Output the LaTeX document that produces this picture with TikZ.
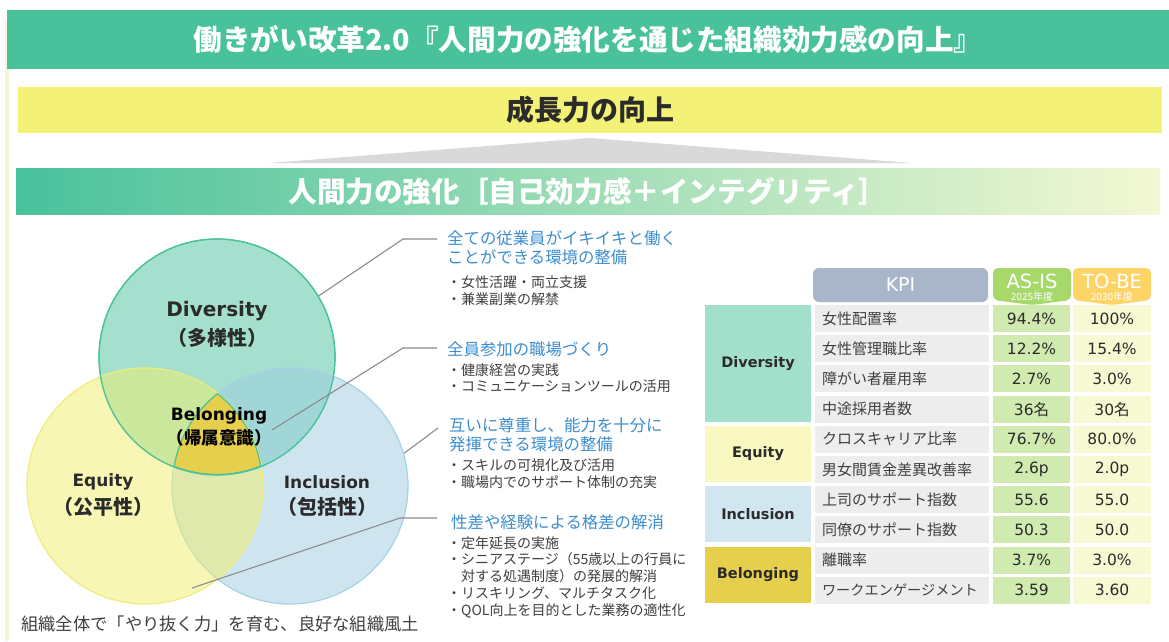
\documentclass[tikz,border=0pt]{standalone}
\usepackage{fontspec}
\setmainfont{Noto Sans CJK JP}
\newfontfamily\lat{DejaVu Sans}
\newfontfamily\jpn{Noto Sans CJK JP}
\usetikzlibrary{positioning}

\newcommand\fsz[1]{\fontsize{#1}{#1}\selectfont}

\definecolor{ttlgreen}{HTML}{49C29C}
\definecolor{paleend}{HTML}{F3F8D3}
\definecolor{bandyel}{HTML}{F4F276}
\definecolor{stripyel}{HTML}{F3F7D6}
\definecolor{trigray}{HTML}{D9D9D9}
\definecolor{divline}{HTML}{4AC29C}
\definecolor{divfill}{HTML}{4AC29C}
\definecolor{eqline}{HTML}{F0EC7C}
\definecolor{eqfill}{HTML}{F2EE6A}
\definecolor{incline}{HTML}{A6D2E6}
\definecolor{incfill}{HTML}{9ECDE3}
\definecolor{gold}{HTML}{E5CF4D}
\definecolor{lineg}{HTML}{8C8C8C}
\definecolor{bluet}{HTML}{3C8DD0}
\definecolor{txtg}{HTML}{404040}
\definecolor{txtd}{HTML}{2B2B2B}
\definecolor{kpihd}{HTML}{A9B5C8}
\definecolor{asishd}{HTML}{A6D96A}
\definecolor{tobehd}{HTML}{FFD466}
\definecolor{catdiv}{HTML}{A3E0CC}
\definecolor{cateq}{HTML}{F8F8C0}
\definecolor{catinc}{HTML}{D2E6F0}
\definecolor{cellg}{HTML}{EDEDED}
\definecolor{asiscl}{HTML}{D0EAB0}
\definecolor{tobecl}{HTML}{F6F9D2}

\tikzstyle{every node}=[inner sep=0pt]
\tikzstyle{band}=[minimum width=1144pt, minimum height=46pt]
\tikzstyle{venn}=[circle, minimum size=236pt, line width=1.2pt]
\tikzstyle{vlab}=[text=txtd, font=\lat\bfseries\fsz{17}]
\tikzstyle{vjp}=[text=txtd, font=\bfseries\fsz{20}]
\tikzstyle{callout}=[draw=lineg, line width=1.1pt]
\tikzstyle{head}=[anchor=north west, align=left, text=bluet, font=\fontsize{16.4}{19.5}\selectfont]
\tikzstyle{bul}=[anchor=north west, align=left, text=txtg, font=\fontsize{14}{16.8}\selectfont]
\tikzstyle{cat}=[minimum width=106pt, text=txtd, font=\lat\bfseries\fsz{14.5}]
\tikzstyle{kpicell}=[fill=cellg, minimum height=27pt, text width=160pt, inner xsep=7pt, align=left, text=txtg, font=\fsz{15}]
\tikzstyle{numcell}=[minimum width=77pt, minimum height=27pt, text=txtd, font=\lat\fsz{15.5}]
\tikzstyle{hdtxt}=[text=white, font=\lat\fsz{19.5}]
\tikzstyle{hdsub}=[text=white, font=\fsz{10}]

\begin{document}
\begin{tikzpicture}[x=1pt, y=-1pt]
    \useasboundingbox (0,0) rectangle (1169,641);
    \fill[white] (0,0) rectangle (1169,641);
    \fill[stripyel] (5,20) rectangle (9,641);

    % bands at the top
    \node[fill=ttlgreen, minimum width=1162pt, minimum height=59pt, text=white, font=\bfseries\fsz{28.6}] (title) at (588,39.5) {働きがい改革2.0『人間力の強化を通じた組織効力感の向上』};
    \node[band, fill=bandyel, text=txtd, font=\bfseries\fsz{28}] (growth) at (590,110) {成長力の向上};
    \fill[trigray] (590,138) -- (912,163) -- (269,163) -- cycle;
    \node[band, left color=ttlgreen, right color=paleend, text=white, font=\bfseries\fsz{28.6}] (human) at (588,191) {人間力の強化［自己効力感＋インテグリティ］};

    % venn
    \node[venn, draw=divline, fill=divfill, fill opacity=.5] (div) at (217,357) {};
    \node[venn, draw=incline, fill=incfill, fill opacity=.5] (inc) at (290,486) {};
    \node[venn, draw=eqline, fill=eqfill, fill opacity=.5] (eqt) at (145,486) {};
    \begin{scope}
        \clip (div.center) circle[radius=118pt];
        \clip (inc.center) circle[radius=118pt];
        \clip (eqt.center) circle[radius=118pt];
        \fill[gold] (div.center) circle[radius=118pt];
        \draw[divline, line width=2.4pt] (div.center) circle[radius=118pt] (inc.center) circle[radius=118pt] (eqt.center) circle[radius=118pt];
    \end{scope}
    \draw[divline, line width=1.2pt] (div.center) circle[radius=118pt];

    \node[vlab, font=\lat\bfseries\fsz{20}] (ldiv) at (217,311) {Diversity};
    \node[vjp] (ldivj) at (217,338) {（多様性）};
    \node[vlab, text=black] (lbel) at (219,416) {Belonging};
    \node[vjp, text=black, font=\bfseries\fsz{17.5}] (lbelj) at (219,438) {（帰属意識）};
    \node[vlab] (leq) at (103,482) {Equity};
    \node[vjp] (leqj) at (103,507) {（公平性）};
    \node[vlab] (linc) at (327,482) {Inclusion};
    \node[vjp] (lincj) at (327,507) {（包括性）};

    \node[anchor=west, text=txtg, font=\fsz{17.3}] (culture) at (21,624) {組織全体で「やり抜く力」を育む、良好な組織風土};

    % callouts
    \node[head] (h1) at (447,230) {全ての従業員がイキイキと働く\\ことができる環境の整備};
    \node[bul] (u1) at (447,276) {・女性活躍・両立支援\\・兼業副業の解禁};
    \node[head] (h2) at (447,341) {全員参加の職場づくり};
    \node[bul] (u2) at (447,363) {・健康経営の実践\\・コミュニケーションツールの活用};
    \node[head] (h3) at (449,417) {互いに尊重し、能力を十分に\\発揮できる環境の整備};
    \node[bul] (u3) at (447,459) {・スキルの可視化及び活用\\・職場内でのサポート体制の充実};
    \node[head] (h4) at (451,514) {性差や経験による格差の解消};
    \node[bul] (u4) at (447,536) {・定年延長の実施\\・シニアステージ（55歳以上の行員に\\\hspace*{1em}対する処遇制度）の発展的解消\\・リスキリング、マルチタスク化\\・QOL向上を目的とした業務の適性化};

    \coordinate (e1) at (437,239);
    \coordinate (e2) at (437,348);
    \coordinate (e3) at (438,428);
    \coordinate (e4) at (437,518);
    \coordinate (pbel) at (272,430);
    \coordinate (peq) at (192,588);
    \draw[callout] (div.31.5) -- (403,239) -- (e1);
    \draw[callout] (pbel) -- (403,348) -- (e2);
    \draw[callout] (inc.16) -- (e3);
    \draw[callout] (peq) -- (400,518) -- (e4);

    % table
    \node[fill=kpihd, rounded corners=6pt, minimum width=175pt, minimum height=34pt, text=white, font=\lat\fsz{19}] (kpi) at (900.5,285) {KPI};
    \fill[asishd, rounded corners=5pt] (1032,305) -- (993,300) -- (993,268) -- (1071,268) -- (1071,300) -- cycle;
    \fill[tobehd, rounded corners=5pt] (1112,305) -- (1073,300) -- (1073,268) -- (1151,268) -- (1151,300) -- cycle;
    \node[hdtxt] (asis) at (1032,281) {AS-IS};
    \node[hdsub, below=3pt of asis] (asisy) {2025年度};
    \node[hdtxt] (tobe) at (1112,281) {TO-BE};
    \node[hdsub, below=3pt of tobe] (tobey) {2030年度};

    \node[cat, fill=catdiv, minimum height=117pt] (cdiv) at (758,363.5) {Diversity};
    \node[cat, fill=cateq, minimum height=56pt] (ceq) at (758,454) {Equity};
    \node[cat, fill=catinc, minimum height=56pt] (cinc) at (758,514) {Inclusion};
    \node[cat, fill=gold, minimum height=56pt] (cbel) at (758,575) {Belonging};

    \foreach \k/\a/\t [count=\i from 0] in {女性配置率/94.4\%/100\%, 女性管理職比率/12.2\%/15.4\%, 障がい者雇用率/2.7\%/3.0\%, 中途採用者数/36{\jpn 名}/30{\jpn 名}, クロスキャリア比率/76.7\%/80.0\%, 男女間賃金差異改善率/2.6p/2.0p, 上司のサポート指数/55.6/55.0, 同僚のサポート指数/50.3/50.0, 離職率/3.7\%/3.0\%, {\fsz{14.2}ワークエンゲージメント}/3.59/3.60} {
        \node[kpicell] (k\i) at (902,318.5+30.2*\i) {\k};
        \node[numcell, fill=asiscl] (a\i) at (1031.5,318.5+30.2*\i) {\a};
        \node[numcell, fill=tobecl, minimum width=78pt] (t\i) at (1112,318.5+30.2*\i) {\t};
    }
\end{tikzpicture}
\end{document}
